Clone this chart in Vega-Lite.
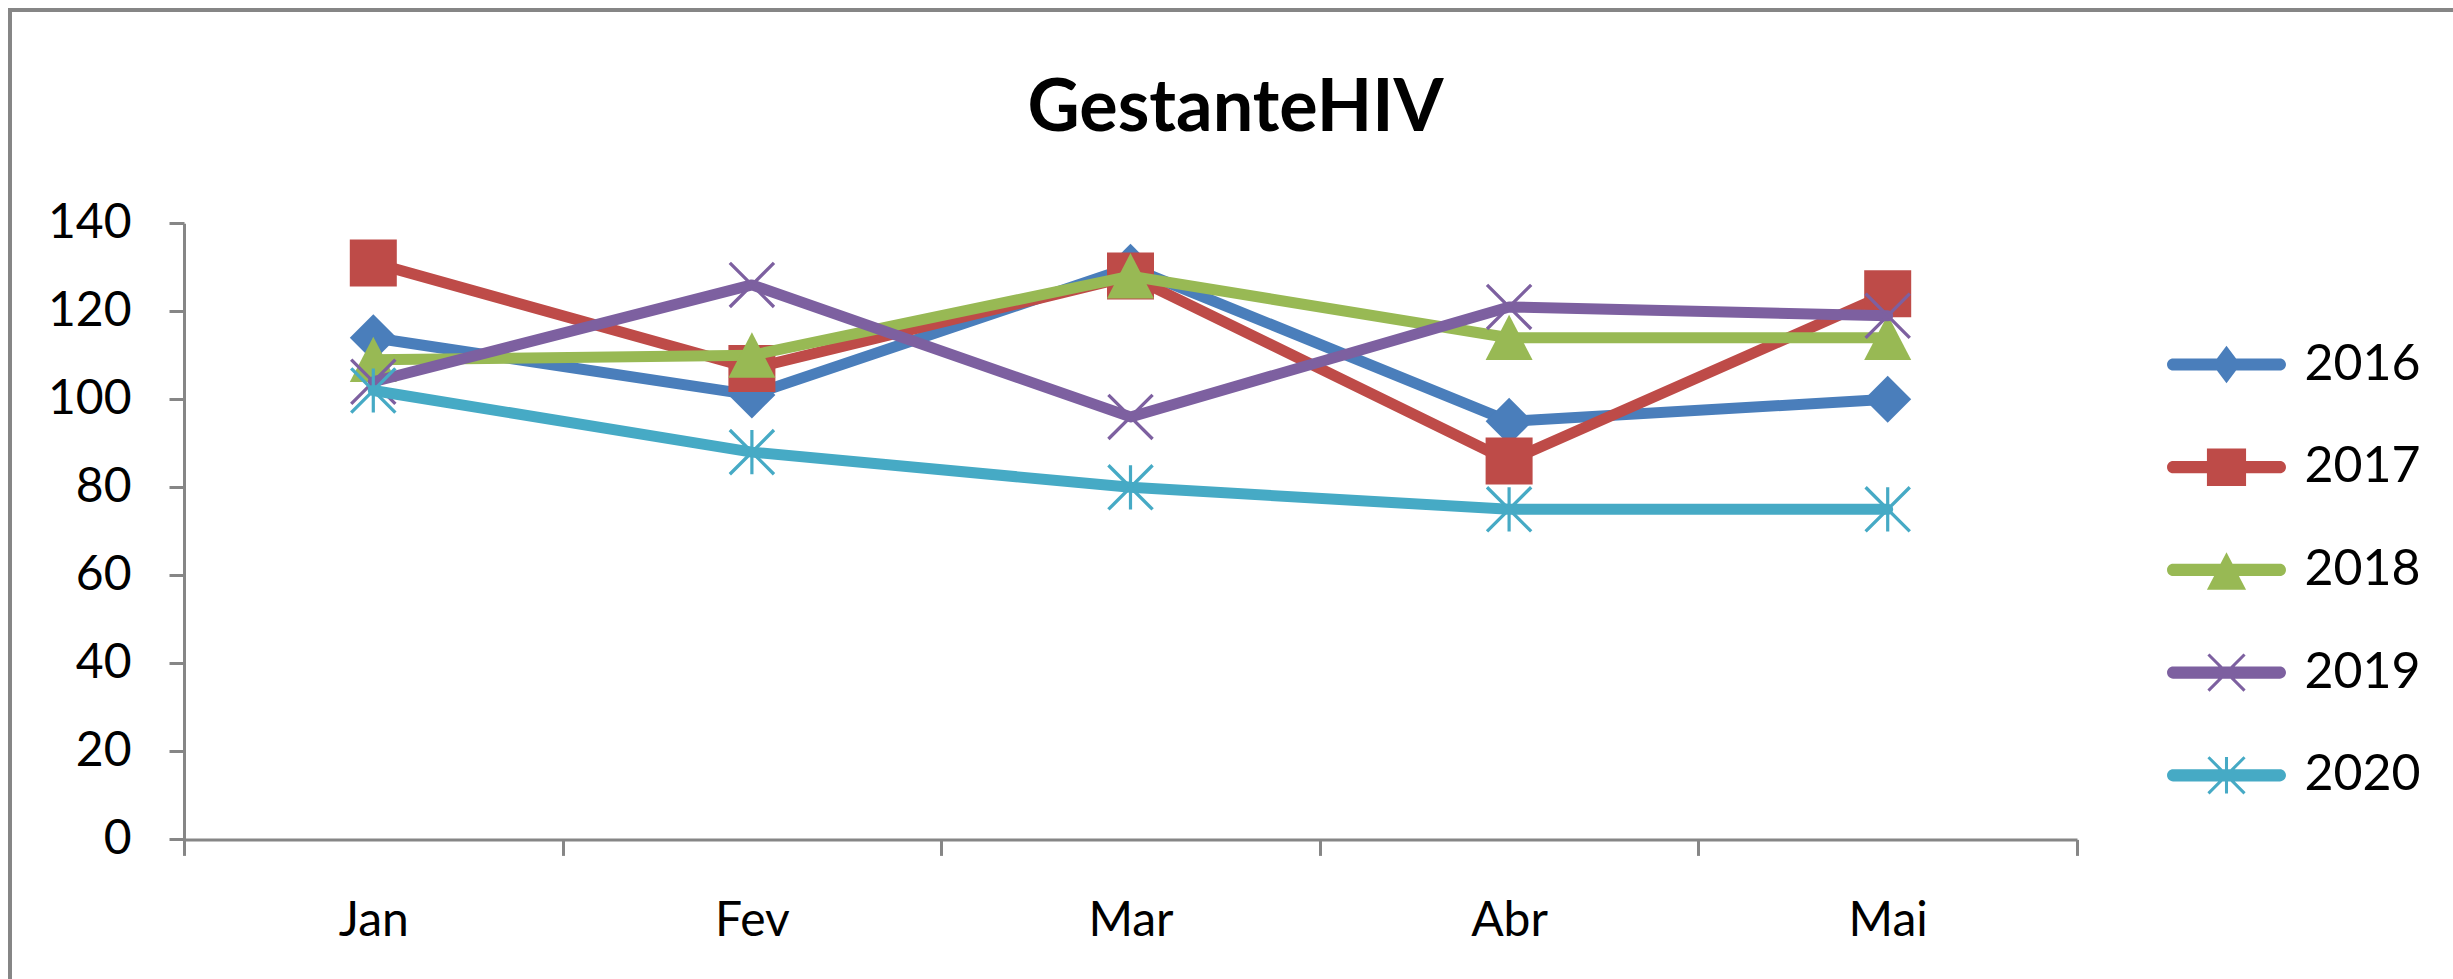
{
  "$schema": "https://vega.github.io/schema/vega-lite/v6.json",
  "autosize": {"type": "none"},
  "padding": {"left": 10, "top": 10, "right": -8, "bottom": -8},
  "width": 2451,
  "height": 977,
  "title": {"text": "GestanteHIV", "font": "Lato", "fontSize": 72, "fontWeight": "bold", "color": "#000000", "anchor": "middle", "frame": "group", "offset": -193, "baseline": "alphabetic"},
  "data": {"values": [
    {"mes": "Jan", "ano": "2016", "valor": 114},
    {"mes": "Fev", "ano": "2016", "valor": 101},
    {"mes": "Mar", "ano": "2016", "valor": 130},
    {"mes": "Abr", "ano": "2016", "valor": 95},
    {"mes": "Mai", "ano": "2016", "valor": 100},
    {"mes": "Jan", "ano": "2017", "valor": 131},
    {"mes": "Fev", "ano": "2017", "valor": 107},
    {"mes": "Mar", "ano": "2017", "valor": 128},
    {"mes": "Abr", "ano": "2017", "valor": 86},
    {"mes": "Mai", "ano": "2017", "valor": 124},
    {"mes": "Jan", "ano": "2018", "valor": 109},
    {"mes": "Fev", "ano": "2018", "valor": 110},
    {"mes": "Mar", "ano": "2018", "valor": 128},
    {"mes": "Abr", "ano": "2018", "valor": 114},
    {"mes": "Mai", "ano": "2018", "valor": 114},
    {"mes": "Jan", "ano": "2019", "valor": 104},
    {"mes": "Fev", "ano": "2019", "valor": 126},
    {"mes": "Mar", "ano": "2019", "valor": 96},
    {"mes": "Abr", "ano": "2019", "valor": 121},
    {"mes": "Mai", "ano": "2019", "valor": 119},
    {"mes": "Jan", "ano": "2020", "valor": 102},
    {"mes": "Fev", "ano": "2020", "valor": 88},
    {"mes": "Mar", "ano": "2020", "valor": 80},
    {"mes": "Abr", "ano": "2020", "valor": 75},
    {"mes": "Mai", "ano": "2020", "valor": 75}
  ]},
  "encoding": {
    "x": {
      "field": "mes", "type": "ordinal", "sort": ["Jan", "Fev", "Mar", "Abr", "Mai"], "bandPosition": 0.5,
      "scale": {"type": "band", "range": [174, 2067], "paddingInner": 0, "paddingOuter": 0},
      "axis": {"orient": "bottom", "offset": -147.6, "title": null, "tickBand": "extent", "labelAngle": 0, "tickSize": 16, "tickWidth": 3, "tickColor": "#868686", "domainColor": "#868686", "domainWidth": 3, "labelFont": "Lato", "labelFontSize": 48, "labelColor": "#000000", "labelPadding": 42, "grid": false}
    },
    "y": {
      "field": "valor", "type": "quantitative",
      "scale": {"domain": [0, 140], "range": [829.4, 213.3], "nice": false},
      "axis": {"orient": "left", "offset": -174, "title": null, "values": [0, 20, 40, 60, 80, 100, 120, 140], "tickSize": 15, "tickWidth": 3, "tickColor": "#868686", "domainColor": "#868686", "domainWidth": 3, "labelFont": "Lato", "labelFontSize": 48, "labelColor": "#000000", "labelPadding": 38, "grid": false}
    }
  },
  "layer": [
    {
      "mark": {"type": "point", "filled": true, "opacity": 0},
      "encoding": {
        "color": {
          "field": "ano", "type": "nominal",
          "scale": {"domain": ["2016", "2017", "2018", "2019", "2020"], "range": ["#4A7EBB", "#BE4B48", "#98B954", "#7D60A0", "#46AAC5"]},
          "legend": {"orient": "none", "legendX": 2191.5, "legendY": 329.5, "direction": "vertical", "title": null, "padding": 0, "labelFont": "Lato", "labelFontSize": 50, "labelColor": "#000000", "labelOffset": 53, "symbolSize": 1444, "symbolStrokeWidth": 0, "symbolOpacity": 1, "rowPadding": 52.7}
        },
        "shape": {
          "field": "ano", "type": "nominal",
          "scale": {"domain": ["2016", "2017", "2018", "2019", "2020"], "range": [
            "M-2.81,-0.32H2.81A0.32,0.32 0 0 1 2.81,0.32H-2.81A0.32,0.32 0 0 1 -2.81,-0.32ZM0,-0.99L0.74,0L0,0.99L-0.74,0Z",
            "M-2.81,-0.32H2.81A0.32,0.32 0 0 1 2.81,0.32H-2.81A0.32,0.32 0 0 1 -2.81,-0.32ZM-1.03,-0.99H1.03V0.99H-1.03Z",
            "M-2.81,-0.32H2.81A0.32,0.32 0 0 1 2.81,0.32H-2.81A0.32,0.32 0 0 1 -2.81,-0.32ZM0,-0.93L1.03,1.04H-1.03Z",
            "M-2.81,-0.32H2.81A0.32,0.32 0 0 1 2.81,0.32H-2.81A0.32,0.32 0 0 1 -2.81,-0.32ZM-0.894,-1.006L1.006,0.894L0.894,1.006L-1.006,-0.894ZM-0.894,1.006L-1.006,0.894L0.894,-1.006L1.006,-0.894Z",
            "M-2.81,-0.32H2.81A0.32,0.32 0 0 1 2.81,0.32H-2.81A0.32,0.32 0 0 1 -2.81,-0.32ZM-0.894,-1.006L1.006,0.894L0.894,1.006L-1.006,-0.894ZM-0.894,1.006L-1.006,0.894L0.894,-1.006L1.006,-0.894ZM-0.08,-0.96H0.08V0.96H-0.08Z"
          ]},
          "legend": {"orient": "none", "legendX": 2191.5, "legendY": 329.5, "direction": "vertical", "title": null, "padding": 0, "labelFont": "Lato", "labelFontSize": 50, "labelColor": "#000000", "labelOffset": 53, "symbolSize": 1444, "symbolStrokeWidth": 0, "symbolOpacity": 1, "rowPadding": 52.7}
        }
      }
    },
    {
      "transform": [{"filter": {"field": "ano", "equal": "2016"}}],
      "mark": {"type": "line", "strokeWidth": 11, "strokeJoin": "round", "strokeCap": "round", "point": {"filled": true, "opacity": 1, "size": 2209, "shape": "M0,-1L1,0L0,1L-1,0Z"}},
      "encoding": {"color": {"field": "ano", "type": "nominal", "legend": null}}
    },
    {
      "transform": [{"filter": {"field": "ano", "equal": "2017"}}],
      "mark": {"type": "line", "strokeWidth": 11, "strokeJoin": "round", "strokeCap": "round", "point": {"filled": true, "opacity": 1, "size": 2209, "shape": "M-1,-1H1V1H-1Z"}},
      "encoding": {"color": {"field": "ano", "type": "nominal", "legend": null}}
    },
    {
      "transform": [{"filter": {"field": "ano", "equal": "2018"}}],
      "mark": {"type": "line", "strokeWidth": 11, "strokeJoin": "round", "strokeCap": "round", "point": {"filled": true, "opacity": 1, "size": 2209, "shape": "M0,-0.98L1,0.95H-1Z"}},
      "encoding": {"color": {"field": "ano", "type": "nominal", "legend": null}}
    },
    {
      "transform": [{"filter": {"field": "ano", "equal": "2019"}}],
      "mark": {"type": "line", "strokeWidth": 11, "strokeJoin": "round", "strokeCap": "round", "point": {"filled": true, "opacity": 1, "size": 2209, "shape": "M-0.89,-0.99L0.99,0.89L0.89,0.99L-0.99,-0.89ZM-0.89,0.99L-0.99,0.89L0.89,-0.99L0.99,-0.89Z"}},
      "encoding": {"color": {"field": "ano", "type": "nominal", "legend": null}}
    },
    {
      "transform": [{"filter": {"field": "ano", "equal": "2020"}}],
      "mark": {"type": "line", "strokeWidth": 11, "strokeJoin": "round", "strokeCap": "round", "point": {"filled": true, "opacity": 1, "size": 2209, "shape": "M-0.89,-0.99L0.99,0.89L0.89,0.99L-0.99,-0.89ZM-0.89,0.99L-0.99,0.89L0.89,-0.99L0.99,-0.89ZM-0.068,-0.94H0.068V0.94H-0.068Z"}},
      "encoding": {"color": {"field": "ano", "type": "nominal", "legend": null}}
    }
  ],
  "config": {
    "view": {"stroke": "#868686", "strokeWidth": 4},
    "background": "#ffffff"
  }
}
